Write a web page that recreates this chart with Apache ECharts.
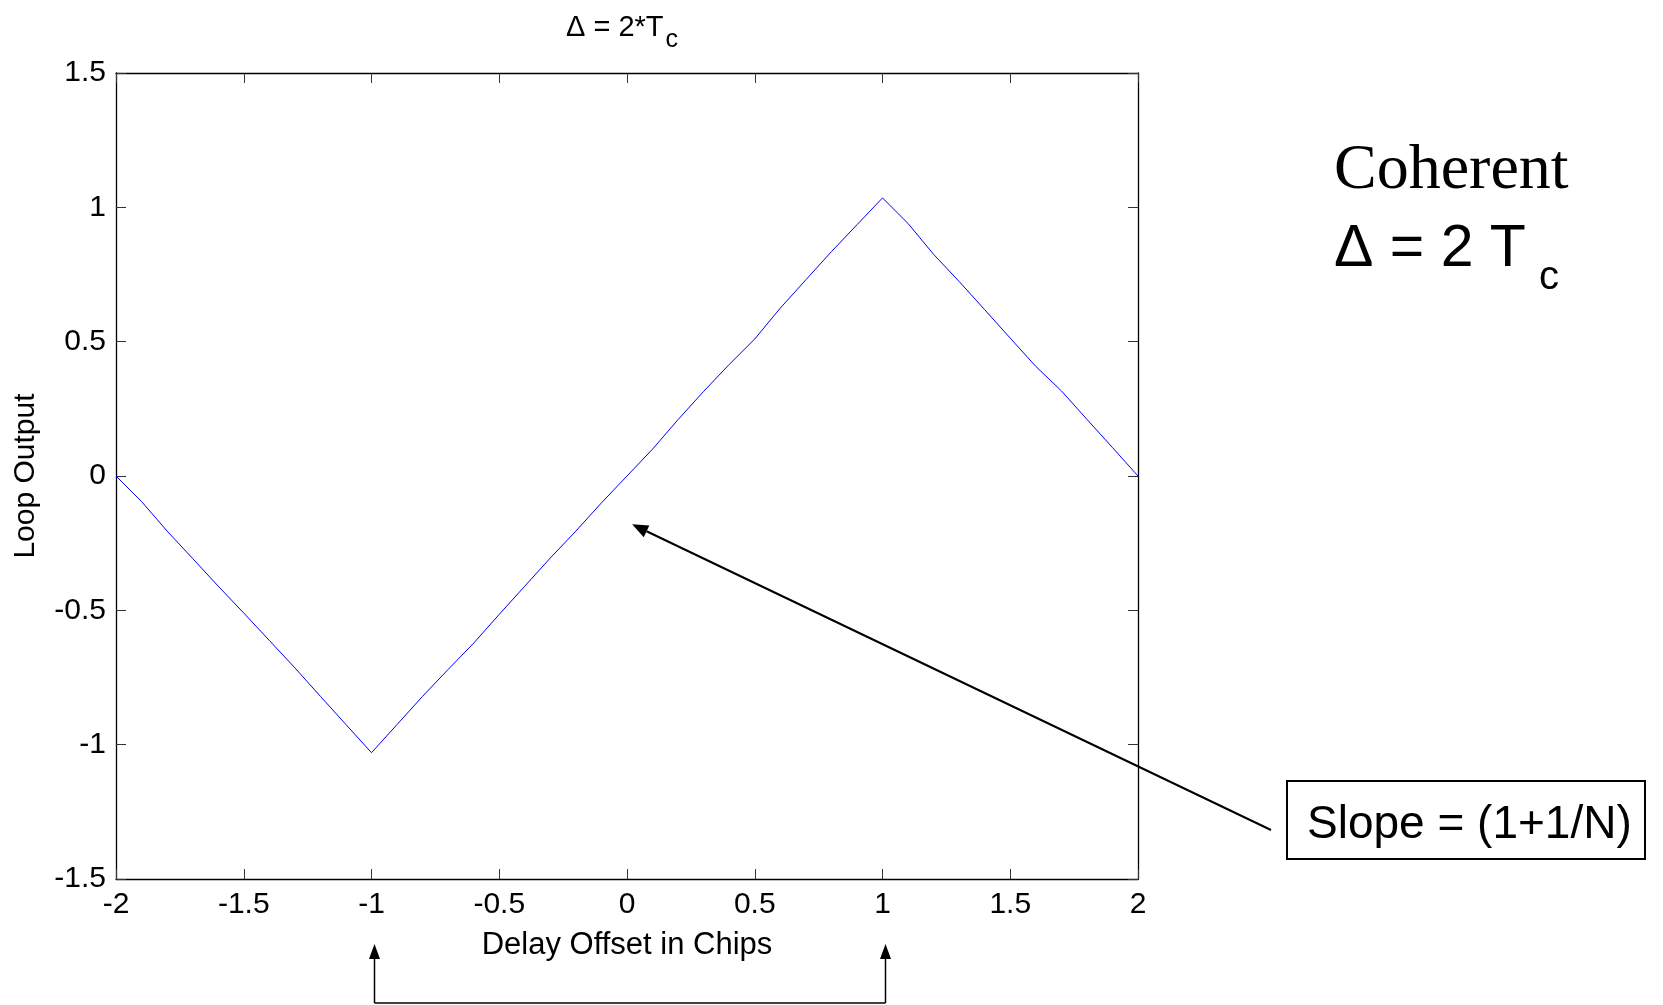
<!DOCTYPE html>
<html>
<head>
<meta charset="utf-8">
<title>Loop Output vs Delay Offset</title>
<script src="https://cdn.jsdelivr.net/npm/echarts@6/dist/echarts.min.js"></script>
<style>
  html, body { margin: 0; padding: 0; background: #fff; }
  #chart { width: 1663px; height: 1005px; }
</style>
</head>
<body>
<div id="chart"></div>
<script>
// Delay offset (chips) and the coherent early-minus-late loop output
const delayOffset = [
  -2.0, -1.9, -1.8, -1.7, -1.6, -1.5, -1.4, -1.3, -1.2, -1.1,
  -1.0, -0.9, -0.8, -0.7, -0.6, -0.5, -0.4, -0.3, -0.2, -0.1,
   0.0,  0.1,  0.2,  0.3,  0.4,  0.5,  0.6,  0.7,  0.8,  0.9,
   1.0,  1.1,  1.2,  1.3,  1.4,  1.5,  1.6,  1.7,  1.8,  1.9,
   2.0
];
const loopOutput = [
   0.000, -0.095, -0.205, -0.307, -0.410, -0.510, -0.612, -0.714, -0.820, -0.925,
  -1.030, -0.925, -0.820, -0.720, -0.622, -0.515, -0.410, -0.305, -0.205, -0.100,
   0.000,  0.100,  0.210,  0.315,  0.415,  0.510,  0.625,  0.730,  0.835,  0.935,
   1.035,  0.940,  0.825,  0.724,  0.619,  0.513,  0.408,  0.317,  0.211,  0.106,
   0.000
];

// Axis ranges and tick spacing
const xRange = [-2, 2];
const yRange = [-1.5, 1.5];
const tickStep = 0.5;

// Annotation anchors in data units
const slopeTarget = [0.02, -0.18];   // where the slope arrow points
const spacingMarks = [-1, 1];        // early / late correlator offsets

const FONT = '"Liberation Sans", Arial, Helvetica, sans-serif';
const SERIF = '"Liberation Serif", "Times New Roman", serif';

const chart = echarts.init(document.getElementById('chart'), null, { renderer: 'canvas' });

const boxAxisX = (pos, showLabels) => ({
  type: 'value', position: pos, min: xRange[0], max: xRange[1], interval: tickStep,
  axisLine: { show: true, onZero: false, lineStyle: { color: '#000', width: 1.3 } },
  axisTick: { show: true, inside: true, length: 10, lineStyle: { color: '#333', width: 1 } },
  axisLabel: { show: showLabels, color: '#000', fontFamily: FONT, fontSize: 30, margin: 11 },
  splitLine: { show: false }
});
const boxAxisY = (pos, showLabels) => ({
  type: 'value', position: pos, min: yRange[0], max: yRange[1], interval: tickStep,
  axisLine: { show: true, onZero: false, lineStyle: { color: '#000', width: 1.3 } },
  axisTick: { show: true, inside: true, length: 10, lineStyle: { color: '#333', width: 1 } },
  axisLabel: { show: showLabels, color: '#000', fontFamily: FONT, fontSize: 30, margin: 10 },
  splitLine: { show: false }
});

const xMain = boxAxisX('bottom', true);
xMain.name = 'Delay Offset in Chips';
xMain.nameLocation = 'middle';
xMain.nameGap = 51;
xMain.nameTextStyle = { color: '#000', fontFamily: FONT, fontSize: 31 };

const yMain = boxAxisY('left', true);
yMain.name = 'Loop Output';
yMain.nameLocation = 'middle';
yMain.nameGap = 75;
yMain.nameTextStyle = { color: '#000', fontFamily: FONT, fontSize: 30 };

chart.setOption({
  animation: false,
  backgroundColor: '#fff',
  title: {
    text: '{a|\u0394 = 2*T}{s|c}',
    left: 566,
    top: 13,
    padding: 0,
    textStyle: {
      fontWeight: 'normal',
      rich: {
        a: { fontFamily: FONT, fontSize: 29, fontWeight: 'normal', color: '#000', lineHeight: 30, verticalAlign: 'top' },
        s: { fontFamily: FONT, fontSize: 25, fontWeight: 'normal', color: '#000', lineHeight: 25, verticalAlign: 'top', padding: [15, 0, 0, 2] }
      }
    }
  },
  grid: { left: 116, right: 525, top: 73, bottom: 126, containLabel: false },
  xAxis: [xMain, boxAxisX('top', false)],
  yAxis: [yMain, boxAxisY('right', false)],
  series: [{
    type: 'line',
    xAxisIndex: 0,
    yAxisIndex: 0,
    data: delayOffset.map((x, i) => [x, loopOutput[i]]),
    showSymbol: false,
    symbol: 'none',
    smooth: false,
    lineStyle: { color: '#0000ff', width: 1 },
    clip: true
  }]
});

// Arrow head polygon pointing at tip, coming from tail
function arrowHead(tip, tail, len, halfW) {
  const dx = tip[0] - tail[0], dy = tip[1] - tail[1];
  const d = Math.hypot(dx, dy);
  const ux = dx / d, uy = dy / d;
  const bx = tip[0] - ux * len, by = tip[1] - uy * len;
  return [tip, [bx - uy * halfW, by + ux * halfW], [bx + uy * halfW, by - ux * halfW]];
}

const toPx = (pt) => chart.convertToPixel({ xAxisIndex: 0, yAxisIndex: 0 }, pt);

const tip = toPx(slopeTarget);
const tail = [1271, 830];
const slopeHeadBase = arrowHead(tip, tail, 16, 6.5);
const shaftEnd = [(slopeHeadBase[1][0] + slopeHeadBase[2][0]) / 2, (slopeHeadBase[1][1] + slopeHeadBase[2][1]) / 2];

const graphics = [
  // Right-hand caption
  { type: 'text', x: 1334, y: 171, style: { text: 'Coherent', font: '64px ' + SERIF, fill: '#000', verticalAlign: 'middle', align: 'left' } },
  { type: 'text', x: 1334, y: 250, style: { text: '\u0394 = 2 T', font: '59px ' + FONT, fill: '#000', verticalAlign: 'middle', align: 'left' } },
  { type: 'text', x: 1539, y: 278, style: { text: 'c', font: '40px ' + FONT, fill: '#000', verticalAlign: 'middle', align: 'left' } },
  // Slope box
  { type: 'rect', shape: { x: 1287, y: 781, width: 358, height: 78 }, style: { fill: '#fff', stroke: '#000', lineWidth: 2 } },
  { type: 'text', x: 1307, y: 825, style: { text: 'Slope = (1+1/N)', font: '46px ' + FONT, fill: '#000', verticalAlign: 'middle', align: 'left' } },
  // Slope arrow
  { type: 'line', shape: { x1: tail[0], y1: tail[1], x2: shaftEnd[0], y2: shaftEnd[1] }, style: { stroke: '#000', lineWidth: 2 }, z: 50 },
  { type: 'polygon', shape: { points: slopeHeadBase }, style: { fill: '#000' }, z: 50 }
];

// Bracket joining the early and late correlator positions below the axis
const tipY = 944, baseY = 1003;
const bx = spacingMarks.map(v => toPx([v, 0])[0] + 3);
bx.forEach(x => {
  graphics.push({ type: 'line', shape: { x1: x, y1: baseY, x2: x, y2: tipY + 12 }, style: { stroke: '#000', lineWidth: 1.5 } });
  graphics.push({ type: 'polygon', shape: { points: arrowHead([x, tipY], [x, baseY], 15, 5.5) }, style: { fill: '#000' } });
});
graphics.push({ type: 'line', shape: { x1: bx[0], y1: baseY, x2: bx[1], y2: baseY }, style: { stroke: '#000', lineWidth: 1.5 } });

chart.setOption({ graphic: graphics });
</script>
</body>
</html>
